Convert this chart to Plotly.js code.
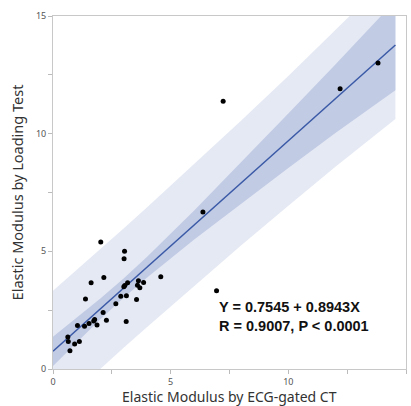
<!DOCTYPE html>
<html>
<head>
<meta charset="utf-8">
<script src="https://cdn.plot.ly/plotly-3.0.1.min.js"></script>
<style>html,body{margin:0;padding:0;background:#fff;}#chart{width:411px;height:406px;}</style>
</head>
<body>
<div id="chart"></div>
<script>
// Scatter data (CT vs loading test)
const ctModulus = [2.03,3.04,3.02,2.16,1.62,4.58,3.63,3.85,3.17,3.01,3.59,3.69,3.05,1.38,2.88,3.12,3.55,2.67,2.13,3.11,2.27,1.77,1.73,1.53,1.87,1.04,1.34,0.63,0.65,1.12,0.92,0.72,6.95,7.23,12.2,6.37,13.81];
const loadModulus = [5.40,5.00,4.68,3.89,3.66,3.92,3.75,3.68,3.66,3.49,3.56,3.45,3.55,2.97,3.09,3.11,2.95,2.77,2.40,2.02,2.07,2.10,2.04,1.93,1.87,1.85,1.82,1.36,1.17,1.17,1.06,0.78,3.32,11.38,11.91,6.67,13.00];

// Regression line and bands
const fitX = [0, 14.55];
const fitY = [0.7545, 13.77];
const bandX = [0, 1, 2, 3, 4, 6, 8, 10, 12, 14.55];
const ciLo = [0.13, 1.13, 2.10, 3.03, 3.89, 5.50, 7.03, 8.54, 10.03, 11.85];
const ciHi = [1.37, 2.16, 2.98, 3.85, 4.77, 6.74, 8.79, 10.86, 12.94, 15.65];
const piLo = [-1.82, -0.90, 0.01, 0.90, 1.79, 3.54, 5.26, 6.94, 8.59, 10.62];
const piHi = [3.33, 4.20, 5.08, 5.97, 6.87, 8.70, 10.56, 12.45, 14.38, 16.90];

const tickVals = [0, 2.5, 5, 7.5, 10, 12.5, 15];
const tickText = ['0', '', '5', '', '10', '', '15'];

const xTitle = 'Elastic Modulus by ECG-gated CT';
const yTitle = 'Elastic Modulus by Loading Test';
const eqLine1 = 'Y = 0.7545 + 0.8943X';
const eqLine2 = 'R = 0.9007, P < 0.0001';

const traces = [
  {x: bandX, y: piLo, mode: 'lines', line: {width: 0, color: 'rgba(0,0,0,0)'}, hoverinfo: 'skip', showlegend: false},
  {x: bandX, y: piHi, mode: 'lines', fill: 'tonexty', fillcolor: '#e5e9f4', line: {width: 0, color: 'rgba(0,0,0,0)'}, hoverinfo: 'skip', showlegend: false},
  {x: bandX, y: ciLo, mode: 'lines', line: {width: 0, color: 'rgba(0,0,0,0)'}, hoverinfo: 'skip', showlegend: false},
  {x: bandX, y: ciHi, mode: 'lines', fill: 'tonexty', fillcolor: '#c1cbe4', line: {width: 0, color: 'rgba(0,0,0,0)'}, hoverinfo: 'skip', showlegend: false},
  {x: fitX, y: fitY, mode: 'lines', line: {color: '#3a59a6', width: 1.5}, showlegend: false},
  {x: ctModulus, y: loadModulus, mode: 'markers', marker: {color: '#000', size: 5}, showlegend: false}
];

const axisCommon = {
  range: [0, 15], tickmode: 'array', tickvals: tickVals, ticktext: tickText,
  ticks: 'outside', ticklen: 4, tickcolor: '#bbb', showgrid: false, zeroline: false,
  showline: true, linecolor: '#c8c8c8', linewidth: 1, mirror: true,
  tickfont: {family: 'Noto Sans, sans-serif', size: 9, color: '#555'}
};

const titleFont = {family: 'Noto Sans, sans-serif', size: 14, color: '#333'};

const layout = {
  width: 411, height: 406,
  margin: {l: 53, r: 5, t: 16, b: 37},
  paper_bgcolor: '#fff', plot_bgcolor: '#fff',
  xaxis: Object.assign({}, axisCommon),
  yaxis: Object.assign({}, axisCommon, {
    title: {text: yTitle, font: {family: 'Noto Sans, sans-serif', size: 14.5, color: '#333'}, standoff: 8}
  }),
  annotations: [
    {
      x: 6.95, y: 2.22, xref: 'x', yref: 'y', xanchor: 'left', yanchor: 'middle', align: 'left',
      showarrow: false, text: '<b>' + eqLine1 + '</b><br><b>' + eqLine2 + '</b>',
      font: {family: 'Liberation Sans, Arial, sans-serif', size: 14.5, color: '#111'}
    },
    {
      x: 0.5, y: -0.077, xref: 'paper', yref: 'paper', xanchor: 'center', yanchor: 'middle',
      showarrow: false, text: xTitle, font: titleFont
    }
  ]
};

Plotly.newPlot('chart', traces, layout, {displayModeBar: false, staticPlot: true});
</script>
</body>
</html>
